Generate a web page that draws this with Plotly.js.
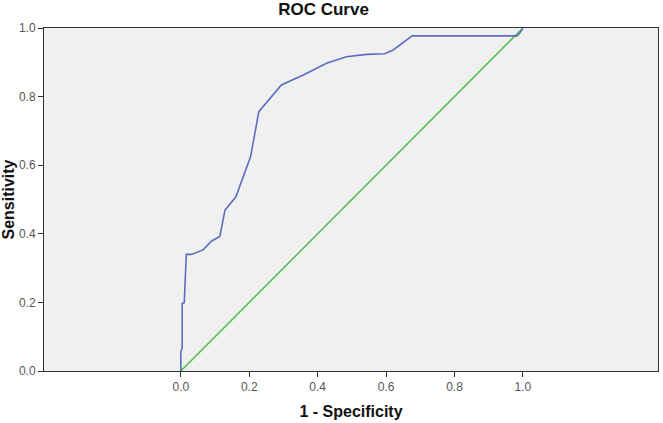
<!DOCTYPE html>
<html>
<head>
<meta charset="utf-8">
<script src="https://cdn.plot.ly/plotly-3.0.1.min.js"></script>
<style>html,body{margin:0;padding:0;background:#fff;}#chart{width:663px;height:423px;}</style>
</head>
<body>
<div id="chart"></div>
<script>
// ROC curve points (1 - Specificity, Sensitivity)
var fpr = [0.000, 0.000, 0.004, 0.004, 0.010, 0.013, 0.016, 0.031, 0.065, 0.090, 0.114, 0.129, 0.161, 0.204, 0.228, 0.294, 0.358, 0.426, 0.484, 0.543, 0.596, 0.621, 0.676, 0.983, 0.990, 1.000];
var tpr = [0.000, 0.056, 0.066, 0.197, 0.199, 0.256, 0.340, 0.340, 0.353, 0.379, 0.392, 0.469, 0.508, 0.625, 0.756, 0.834, 0.863, 0.897, 0.916, 0.923, 0.925, 0.936, 0.977, 0.977, 0.984, 1.000];
// Reference line
var refX = [0, 1];
var refY = [0, 1];
var xTicks = [0, 0.2, 0.4, 0.6, 0.8, 1.0];
var xTickLabels = ['0.0', '0.2', '0.4', '0.6', '0.8', '1.0'];
var yTicks = [0, 0.2, 0.4, 0.6, 0.8, 1.0];
var yTickLabels = ['0.0', '0.2', '0.4', '0.6', '0.8', '1.0'];

var traces = [
  {x: refX, y: refY, mode: 'lines', line: {color: '#4fbf4f', width: 1.5}, hoverinfo: 'skip'},
  {x: fpr, y: tpr, mode: 'lines', line: {color: '#5a6ebf', width: 1.6}}
];

var layout = {
  width: 663, height: 423,
  margin: {l: 44, r: 5, t: 28, b: 52},
  paper_bgcolor: '#ffffff',
  plot_bgcolor: '#f0f0f0',
  showlegend: false,
  font: {family: 'Liberation Sans, Arial, sans-serif', color: '#333'},
  title: {text: '<b>ROC Curve</b>', x: 0.488, xanchor: 'center', y: 0.978, yanchor: 'middle', font: {size: 17, color: '#111', family: 'Liberation Sans, Arial, sans-serif'}},
  xaxis: {
    range: [-0.4, 1.395], tickvals: xTicks, ticktext: xTickLabels,
    showgrid: false, zeroline: false,
    showline: true, linecolor: '#333', linewidth: 1, mirror: true,
    ticks: 'outside', ticklen: 5, tickcolor: '#333',
    tickfont: {size: 12, color: '#555'},
    title: {text: '<b>1 - Specificity</b>', font: {size: 16, color: '#111'}, standoff: 12}
  },
  yaxis: {
    range: [0, 1], tickvals: yTicks, ticktext: yTickLabels,
    showgrid: false, zeroline: false,
    showline: true, linecolor: '#333', linewidth: 1, mirror: true,
    ticks: 'outside', ticklen: 5, tickcolor: '#333',
    tickfont: {size: 12, color: '#555'},
    title: {text: '<b>Sensitivity</b>', font: {size: 16, color: '#111'}, standoff: 2}
  }
};

Plotly.newPlot('chart', traces, layout, {displayModeBar: false, staticPlot: true});
</script>
</body>
</html>
